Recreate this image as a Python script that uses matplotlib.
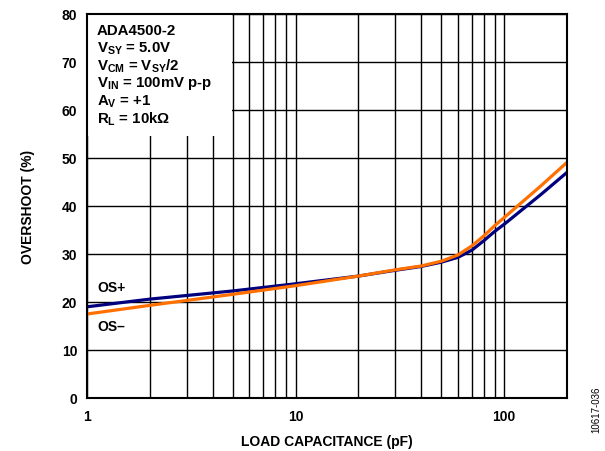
import matplotlib
matplotlib.use("Agg")
import matplotlib.pyplot as plt
import numpy as np
from matplotlib.patches import Rectangle
from matplotlib.ticker import FixedLocator, NullFormatter

plt.rcParams['font.family'] = ['Liberation Sans', 'DejaVu Sans']
plt.rcParams['font.weight'] = 'bold'
plt.rcParams['mathtext.fontset'] = 'custom'
plt.rcParams['mathtext.rm'] = 'Liberation Sans:bold'
plt.rcParams['mathtext.it'] = 'Liberation Sans:bold'
plt.rcParams['mathtext.bf'] = 'Liberation Sans:bold'

cap_pf = [1, 2, 5, 10, 20, 30, 40, 50, 60, 70, 80, 90, 100, 150, 200]
os_plus = [19.0, 20.6, 22.3, 23.8, 25.4, 26.6, 27.4, 28.3, 29.3, 30.8, 32.8, 34.7, 36.2, 42.4, 47.0]
os_minus = [17.5, 19.3, 21.6, 23.4, 25.4, 26.7, 27.5, 28.5, 29.8, 31.7, 33.8, 35.9, 37.6, 44.2, 49.1]

y_ticks = [0, 10, 20, 30, 40, 50, 60, 70, 80]
x_ticks = [1, 10, 100]
x_tick_labels = ['1', '10', '100']
info_lines = ['ADA4500-2', 'V$_{SY}$ = 5.0V', 'V$_{CM}$ = V$_{SY}$/2',
              'V$_{IN}$ = 100mV p-p', 'A$_{V}$ = +1', 'R$_{L}$ = 10kΩ']

fig = plt.figure(figsize=(6.05, 4.52), dpi=100)
ax = fig.add_axes([87/605, 1-399/452, 480/605, 384/452])

ax.set_xscale('log')
ax.set_xlim(1, 200)
ax.set_ylim(0, 80)

minor = [m * d for d in (1, 10, 100) for m in range(2, 10) if m * d < 200]
ax.xaxis.set_major_locator(FixedLocator(x_ticks))
ax.xaxis.set_minor_locator(FixedLocator(minor))
ax.xaxis.set_minor_formatter(NullFormatter())
ax.set_xticks(x_ticks)
ax.set_xticklabels(x_tick_labels)
ax.set_yticks(y_ticks)
ax.tick_params(which='both', length=0, labelsize=10, pad=8)
ax.tick_params(axis='y', pad=7)
for lab in ax.get_xticklabels() + ax.get_yticklabels():
    lab.set_fontweight('bold')

ax.grid(True, which='both', color='black', linewidth=1.0)
ax.set_axisbelow(True)
for s in ax.spines.values():
    s.set_linewidth(1.5)
    s.set_zorder(6)

ax.add_patch(Rectangle((0, (399-137)/384), (232-87)/480, 1-(399-137)/384,
                       transform=ax.transAxes, facecolor='white', edgecolor='none', zorder=2))

ax.plot(cap_pf, os_plus, color='#00007F', linewidth=2.3, zorder=4)
ax.plot(cap_pf, os_minus, color='#FF7000', linewidth=2.3, zorder=5)

for i, t in enumerate(info_lines):
    ax.text(97/605, 1 - (31 + i*17.6)/452, t, transform=fig.transFigure,
            fontsize=10.8, fontweight='bold', va='center', ha='left', zorder=7)

ax.text(1.12, 22.3, 'OS+', fontsize=10, fontweight='bold', zorder=7)
ax.text(1.12, 14.2, 'OS–', fontsize=10, fontweight='bold', zorder=7)

ax.set_xlabel('LOAD CAPACITANCE (pF)', fontsize=10, fontweight='bold', labelpad=8)
ax.set_ylabel('OVERSHOOT (%)', fontsize=10, fontweight='bold', labelpad=19)

fig.text(596/605, 1-410/452, '10617-036', rotation=90, fontsize=7,
         fontweight='normal', ha='center', va='center')

fig.savefig('out.png', dpi=100)
